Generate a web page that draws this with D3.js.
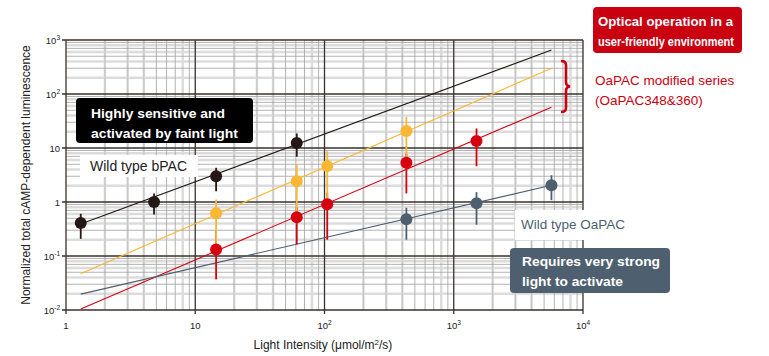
<!DOCTYPE html>
<html><head><meta charset="utf-8">
<script src="https://cdn.jsdelivr.net/npm/d3@7"></script>
<style>body{margin:0;background:#fff}svg{display:block}text{font-family:"Liberation Sans",Arial,sans-serif}</style>
</head><body><svg id="c" width="769" height="356"></svg>
<script>
// ---- data ----
const xTickValues = [1, 10, 100, 1000, 10000];
const xTickBase = ["1", "10", "10", "10", "10"];
const xTickExp = ["", "", "2", "3", "4"];
const yTickValues = [1000, 100, 10, 1, 0.1, 0.01];
const yTickBase = ["10", "10", "10", "1", "10", "10"];
const yTickExp = ["3", "2", "", "", "-1", "-2"];

const bpacX = [1.3, 4.8, 14.5, 61];
const bpacY = [0.41, 1.0, 3.0, 12.4];
const bpacLo = [0.208, 0.587, 1.58, 6.9];
const bpacHi = [0.605, 1.44, 4.3, 18.6];

const yellowX = [14.5, 61, 105, 430];
const yellowY = [0.62, 2.42, 4.64, 20.7];
const yellowLo = [0.163, 0.54, 0.94, 5.6];
const yellowHi = [1.11, 4.95, 8.72, 37.8];

const redX = [14.5, 61, 105, 430, 1500];
const redY = [0.132, 0.52, 0.906, 5.34, 13.5];
const redLo = [0.037, 0.163, 0.2, 1.44, 4.6];
const redHi = [0.3, 0.8, 1.5, 8, 23];

const oapacX = [430, 1500, 5700];
const oapacY = [0.478, 0.95, 2.04];
const oapacLo = [0.2, 0.38, 1.08];
const oapacHi = [0.78, 1.52, 3.13];

const fitX = [1.3, 5700];
const bpacFit = [0.39, 650];
const yellowFit = [0.047, 300];
const redFit = [0.0104, 57];
const oapacFit = [0.0197, 2.04];

// ---- chart ----
const svg = d3.select("#c");
const x = d3.scaleLog().domain([1, 1e4]).range([66, 583]);
const y = d3.scaleLog().domain([1e-2, 1e3]).range([310, 40]);

const C = {black:"#231815", yellow:"#f9b733", red:"#d7000f", slate:"#4e5f70", major:"#3a302c"};

// minor grid
const g = svg.append("g");
const decX = [1, 10, 100, 1000];
const decY = [0.01, 0.1, 1, 10, 100];
const lightV = [2, 3, 4, 8], grayV = [5, 6, 7, 9];
const lightH = [2, 4, 6, 8], grayH = [3, 5, 7, 9];
decX.forEach(d => {
  lightV.forEach(m => g.append("line").attr("x1", x(d*m)).attr("x2", x(d*m)).attr("y1", y(1e-2)).attr("y2", y(1e3)).attr("stroke", "#dcdcdc").attr("stroke-width", 2.5));
});
decY.forEach(d => {
  lightH.forEach(m => g.append("line").attr("y1", y(d*m)).attr("y2", y(d*m)).attr("x1", x(1)).attr("x2", x(1e4)).attr("stroke", "#dcdcdc").attr("stroke-width", 2.5));
});
decX.forEach(d => {
  grayV.forEach(m => g.append("line").attr("x1", x(d*m)).attr("x2", x(d*m)).attr("y1", y(1e-2)).attr("y2", y(1e3)).attr("stroke", "#a9a9a9").attr("stroke-width", 0.9));
  [2,3,4].forEach(m => g.append("line").attr("x1", x(d*m)).attr("x2", x(d*m)).attr("y1", y(1e-2)).attr("y2", y(1e3)).attr("stroke", "#b8b8b8").attr("stroke-width", 0.7));
});
decY.forEach(d => {
  grayH.forEach(m => g.append("line").attr("y1", y(d*m)).attr("y2", y(d*m)).attr("x1", x(1)).attr("x2", x(1e4)).attr("stroke", "#a9a9a9").attr("stroke-width", 0.9));
});
// major grid
yTickValues.forEach(v => g.append("line").attr("y1", y(v)).attr("y2", y(v)).attr("x1", x(1) - 4).attr("x2", x(1e4)).attr("stroke", C.major).attr("stroke-width", 1.3));
xTickValues.forEach(v => g.append("line").attr("x1", x(v)).attr("x2", x(v)).attr("y1", y(1e-2) + 4).attr("y2", y(1e3)).attr("stroke", C.major).attr("stroke-width", 1.3));

// tick labels
xTickValues.forEach((v, i) => {
  const t = svg.append("text").attr("x", x(v)).attr("y", 329).attr("text-anchor", "middle").attr("font-size", 9.5).attr("fill", "#222");
  t.append("tspan").text(xTickBase[i]);
  if (xTickExp[i]) t.append("tspan").attr("font-size", 6.5).attr("dy", -4).text(xTickExp[i]);
});
yTickValues.forEach((v, i) => {
  const t = svg.append("text").attr("x", 60).attr("y", y(v) + 3.5).attr("text-anchor", "end").attr("font-size", 9.5).attr("fill", "#222");
  t.append("tspan").text(yTickBase[i]);
  if (yTickExp[i]) t.append("tspan").attr("font-size", 6.5).attr("dy", -4).text(yTickExp[i]);
});
// axis titles
const xt = svg.append("text").attr("x", 323).attr("y", 349).attr("text-anchor", "middle").attr("font-size", 12).attr("fill", "#222");
xt.append("tspan").text("Light Intensity (μmol/m");
xt.append("tspan").attr("font-size", 8).attr("dy", -4).text("2");
xt.append("tspan").attr("dy", 4).text("/s)");
svg.append("text").attr("transform", "translate(30,175) rotate(-90)").attr("text-anchor", "middle").attr("font-size", 12).attr("fill", "#222").text("Normalized total cAMP-dependent luminescence");

// fit lines
const fits = [[bpacFit, C.black], [yellowFit, C.yellow], [redFit, C.red], [oapacFit, C.slate]];
fits.forEach(([f, col]) => svg.append("line").attr("x1", x(fitX[0])).attr("x2", x(fitX[1])).attr("y1", y(f[0])).attr("y2", y(f[1])).attr("stroke", col).attr("stroke-width", 1.1));

// error bars
const series = [
  [bpacX, bpacY, bpacLo, bpacHi, C.black],
  [oapacX, oapacY, oapacLo, oapacHi, C.slate],
  [redX, redY, redLo, redHi, C.red],
  [yellowX, yellowY, yellowLo, yellowHi, C.yellow]
];
series.forEach(([xs, ys, lo, hi, col]) => {
  svg.append("g").selectAll("line").data(xs).join("line")
    .attr("x1", d => x(d)).attr("x2", d => x(d))
    .attr("y1", (d, i) => y(lo[i])).attr("y2", (d, i) => y(hi[i]))
    .attr("stroke", col).attr("stroke-width", 1.8);
});
series.forEach(([xs, ys, lo, hi, col]) => {
  svg.append("g").selectAll("circle").data(xs).join("circle")
    .attr("cx", d => x(d)).attr("cy", (d, i) => y(ys[i])).attr("r", 6).attr("fill", col);
});

// annotations
function box(x0, y0, w, h, fill, lines, tx, ty, fs, lh, tl) {
  svg.append("rect").attr("x", x0).attr("y", y0).attr("width", w).attr("height", h).attr("rx", 4).attr("fill", fill);
  lines.forEach((s, i) => {
    const t = svg.append("text").attr("x", tx).attr("y", ty + i * lh).attr("font-size", fs).attr("font-weight", "bold").attr("fill", "#fff").text(s);
    if (tl) t.attr("textLength", tl[i]).attr("lengthAdjust", "spacingAndGlyphs");
  });
}
box(76, 98, 177, 45, "#000", ["Highly sensitive and", "activated by faint light"], 91, 118, 13, 20, [134, 147]);
box(593, 7, 149, 46, "#c8000f", ["Optical operation in a", "user-friendly environment"], 598, 26, 12.5, 19.5, [135, 136]);
box(510, 248, 160, 45, "#4e5f70", ["Requires very strong", "light to activate"], 522, 266, 13, 20, [138, 101]);

svg.append("rect").attr("x", 80).attr("y", 155).attr("width", 118).attr("height", 22).attr("fill", "#fff");
svg.append("text").attr("x", 90).attr("y", 171).attr("font-size", 14).attr("fill", "#222").text("Wild type bPAC");
svg.append("rect").attr("x", 515).attr("y", 210).attr("width", 120).attr("height", 30).attr("fill", "#fff");
svg.append("text").attr("x", 521).attr("y", 229).attr("font-size", 13.5).attr("fill", C.slate).text("Wild type OaPAC");

svg.append("text").attr("x", 595).attr("y", 85).attr("font-size", 13.5).attr("fill", "#c8000f").text("OaPAC modified series");
svg.append("text").attr("x", 595).attr("y", 105).attr("font-size", 13.5).attr("fill", "#c8000f").text("(OaPAC348&360)");
// brace
svg.append("path").attr("d", "M561,61 Q566,61 566,65 L566,82 Q566,86 570,86.5 Q566,87 566,91 L566,108 Q566,112 561,112")
  .attr("fill", "none").attr("stroke", "#c8000f").attr("stroke-width", 2.6);
</script></body></html>
